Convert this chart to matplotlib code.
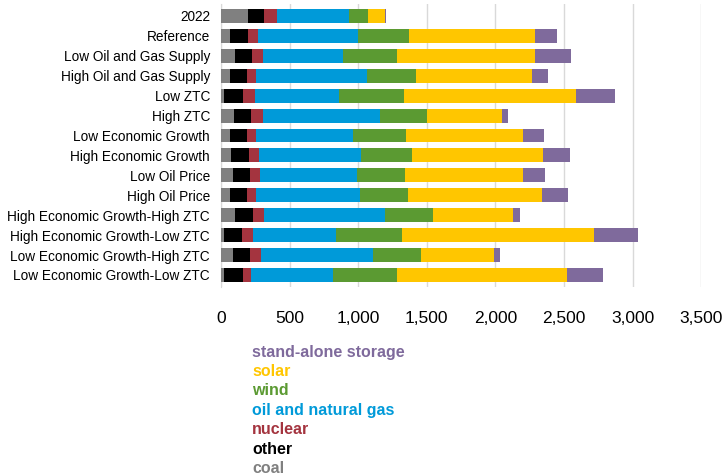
import matplotlib
matplotlib.use('Agg')
import matplotlib.pyplot as plt
import numpy as np

plt.rcParams['font.family'] = ['Liberation Sans', 'DejaVu Sans']

# scenarios, top to bottom
scenarios = ['2022', 'Reference', 'Low Oil and Gas Supply', 'High Oil and Gas Supply',
             'Low ZTC', 'High ZTC', 'Low Economic Growth', 'High Economic Growth',
             'Low Oil Price', 'High Oil Price', 'High Economic Growth-High ZTC',
             'High Economic Growth-Low ZTC', 'Low Economic Growth-High ZTC',
             'Low Economic Growth-Low ZTC']

# capacity by source (stack order left to right)
coal    = [194,  68, 102,  63,  22,  97,  68,  73,  87,  63, 102,  24,  87,  24]
other   = [122, 131, 124, 129, 138, 124, 124, 128, 124, 124, 129, 129, 124, 134]
nuclear = [ 92,  73,  82,  65,  88,  87,  65,  76,  75,  70,  85,  78,  80,  60]
oil_gas = [522, 728, 580, 804, 609, 850, 704, 740, 704, 753, 878, 609, 818, 597]
wind    = [145, 371, 393, 359, 480, 342, 391, 374, 352, 352, 352, 483, 352, 471]
solar   = [122, 915,1005, 849,1253, 548, 847, 958, 857, 975, 585,1395, 529,1236]
storage = [  4, 165, 265, 114, 281,  44, 155, 192, 160, 194,  51, 323,  41, 262]

series = [('coal', coal, '#808080'),
          ('other', other, '#000000'),
          ('nuclear', nuclear, '#A4343F'),
          ('oil and natural gas', oil_gas, '#009AD9'),
          ('wind', wind, '#5B9A32'),
          ('solar', solar, '#FFC600'),
          ('stand-alone storage', storage, '#7F6A9C')]

fig = plt.figure(figsize=(7.23, 4.75), dpi=100)
ax = fig.add_axes([0.3057, 0.396, 0.664, 0.5956])

y = np.arange(len(scenarios))
left = np.zeros(len(scenarios))
for name, vals, col in series:
    vals = np.array(vals, dtype=float)
    ax.barh(y, vals, left=left, height=0.7, color=col, zorder=3)
    left += vals

ax.set_ylim(13.6, -0.6)
ax.set_xlim(0, 3500)
ax.set_xticks(np.arange(0, 3501, 500))
ax.set_xticklabels(['{:,}'.format(v) for v in range(0, 3501, 500)], fontsize=12.5)
ax.set_yticks(y)
ax.set_yticklabels(scenarios, fontsize=9.8)
ax.tick_params(axis='x', length=0, pad=17)
ax.tick_params(axis='y', length=0, pad=8)
ax.grid(axis='x', color='#D9D9D9', linewidth=1, zorder=0)
for s in ['top', 'right', 'bottom']:
    ax.spines[s].set_visible(False)
ax.spines['left'].set_color('#D9D9D9')

# legend as colored text, top to bottom
y0 = 1 - 352 / 475.
dy = 19.4 / 475.
for i, (name, vals, col) in enumerate(series[::-1]):
    fig.text(252 / 723., y0 - i * dy, name, color=col, fontsize=11.5,
             fontweight='bold', va='center', ha='left')

fig.savefig('out.png', dpi=100)
